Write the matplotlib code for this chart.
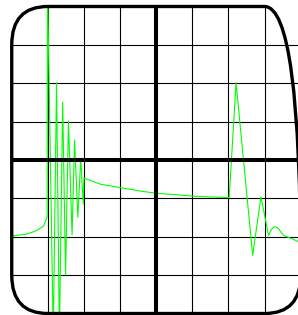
import matplotlib
import matplotlib.pyplot as plt
from matplotlib.patches import FancyBboxPatch

matplotlib.use('Agg')

# screen geometry in divisions
N_X_DIV = 8
N_Y_DIV = 8
X_LIMITS = (-0.325, 7.925)
Y_LIMITS = (-4.039, 4.169)

# trace (x in divisions, y in divisions from centre)
signal_x = [0.0, 0.42, 0.69, 0.88, 0.95, 0.98,
            0.99, 1.15, 1.24, 1.32, 1.41, 1.49, 1.57, 1.67, 1.74, 1.83, 1.91, 1.98,
            2.0, 2.45, 3.01, 3.56, 4.03, 4.49, 5.0, 5.42, 6.01,
            6.02, 6.21, 6.67, 6.90, 7.11, 7.18, 7.25, 7.31, 7.38, 7.45, 7.54, 7.75, 7.95, 8.2]
signal_y = [-1.98, -1.93, -1.84, -1.72, -1.56, -1.49,
            4.6, -4.6, 2.01, -4.6, 1.51, -3.0, 1.02, -1.95, 0.52, -1.49, 0.03, -1.15,
            -0.47, -0.63, -0.72, -0.81, -0.87, -0.90, -0.94, -0.96, -0.98,
            -0.98, 2.01, -2.48, -0.96, -1.97, -1.82, -1.75, -1.74, -1.78, -1.88, -1.97, -2.05, -2.13, -2.2]


def draw_screen(ax):
    # rounded screen outline
    screen = FancyBboxPatch((0, -N_Y_DIV / 2), N_X_DIV, N_Y_DIV,
                            boxstyle="round,pad=0,rounding_size=1",
                            facecolor='none', edgecolor='black', linewidth=2.4, zorder=5)
    ax.add_patch(screen)

    # same shape, invisible, used to clip the graticule and trace
    clip = FancyBboxPatch((0, -N_Y_DIV / 2), N_X_DIV, N_Y_DIV,
                          boxstyle="round,pad=0,rounding_size=1",
                          facecolor='none', edgecolor='none')
    ax.add_patch(clip)

    # graticule, thick lines through the centre
    for i in range(1, N_X_DIV):
        centre = i == N_X_DIV // 2
        line, = ax.plot([i, i], [-N_Y_DIV / 2, N_Y_DIV / 2], color='black',
                        linewidth=2.9 if centre else 0.8, zorder=4 if centre else 2)
        line.set_clip_path(clip)
    for j in range(1, N_Y_DIV):
        y = j - N_Y_DIV / 2
        centre = y == 0
        line, = ax.plot([0, N_X_DIV], [y, y], color='black',
                        linewidth=2.9 if centre else 0.8, zorder=4 if centre else 2)
        line.set_clip_path(clip)

    return clip


fig = plt.figure(figsize=(2.98, 3.15), dpi=100)
ax = fig.add_axes([0, 0, 1, 1])
ax.set_xlim(*X_LIMITS)
ax.set_ylim(*Y_LIMITS)
ax.axis('off')

clip = draw_screen(ax)

trace, = ax.plot(signal_x, signal_y, color='#00ff00', linewidth=0.8, zorder=3)
trace.set_clip_path(clip)

fig.savefig('out.png', dpi=100)
